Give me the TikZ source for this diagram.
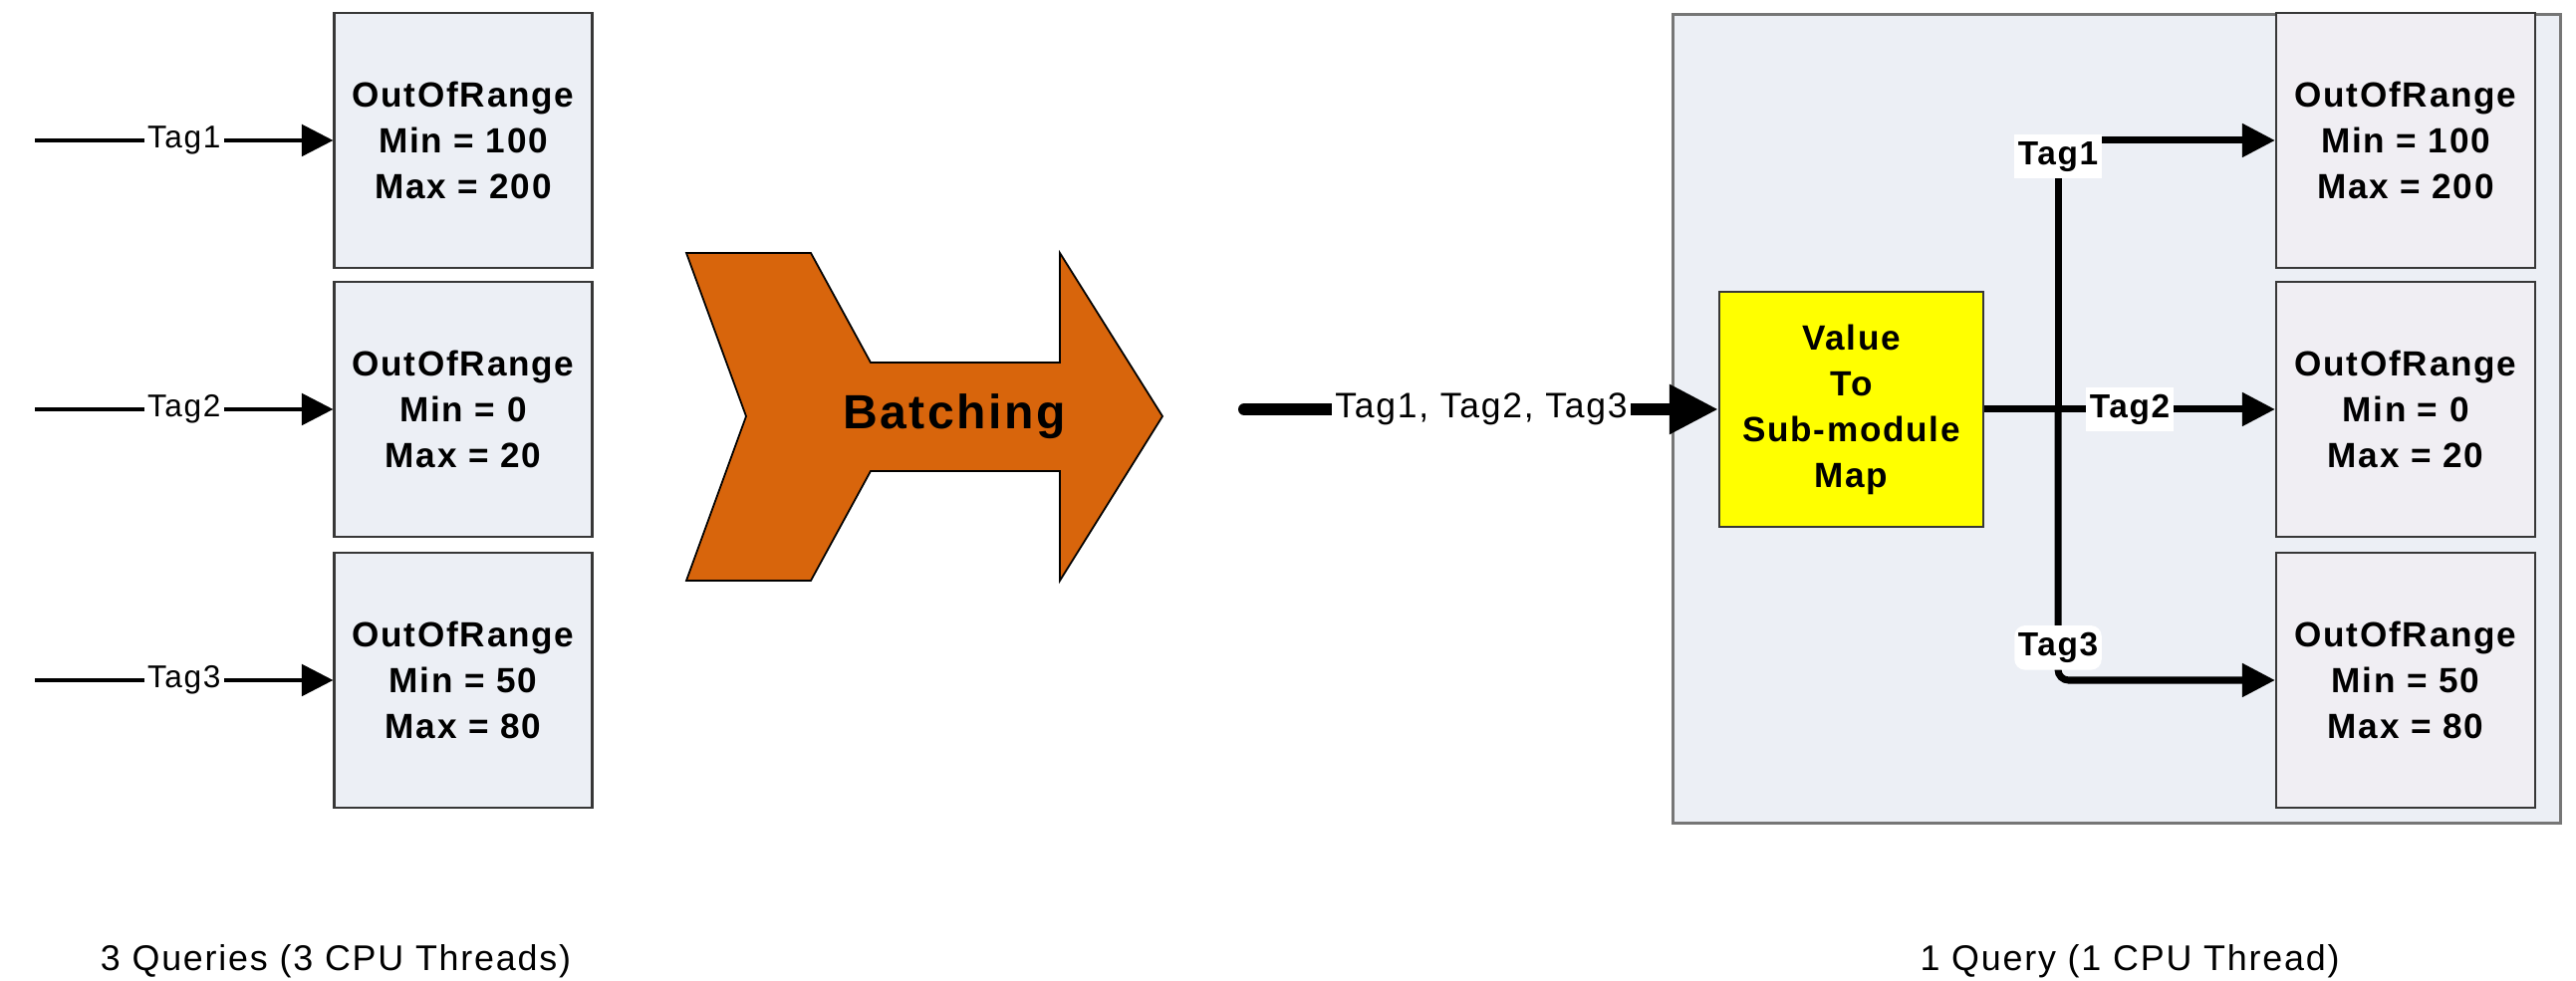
\documentclass[tikz,border=0pt]{standalone}
\usepackage{fontspec}
\setmainfont{Liberation Sans}[LetterSpace=5]
\usetikzlibrary{arrows.meta,positioning}
\definecolor{LoteFundo}{RGB}{236,239,245}
\definecolor{LoteCaixa}{RGB}{240,238,243}
\definecolor{LoteBorda}{RGB}{55,55,55}
\definecolor{LoteMoldura}{RGB}{118,118,118}
\definecolor{LoteLaranja}{RGB}{216,101,12}
\definecolor{LoteAmarelo}{RGB}{255,255,0}
\tikzset{
  regra/.style={draw=LoteBorda, line width=0.6pt, fill=LoteFundo, align=center,
                font=\fontsize{10}{13.1}\selectfont\bfseries, inner sep=0pt,
                minimum width=2.59cm, minimum height=2.56cm},
  mapa/.style={draw=LoteBorda, line width=0.6pt, fill=LoteAmarelo, align=center,
                font=\fontsize{10}{13.1}\selectfont\bfseries, inner sep=0pt,
                minimum width=2.65cm, minimum height=2.36cm},
  moldura/.style={draw=LoteMoldura, line width=0.85pt, fill=LoteFundo, inner sep=0pt},
  seta/.style={-{Triangle[length=9pt, width=9pt]}, line width=1.1pt, black},
  setadir/.style={-{Triangle[length=9.4pt, width=9.2pt]}, line width=2pt, black},
  setagrossa/.style={-{Triangle[length=14pt, width=13.4pt]}, line width=3.4pt,
                line cap=round, black},
  rotulo/.style={font=\fontsize{9}{10}\selectfont, fill=white, inner sep=1pt},
  rotulotag/.style={font=\fontsize{9.5}{11}\selectfont\bfseries, fill=white,
                inner xsep=1pt, inner ysep=2pt},
  rodape/.style={font=\fontsize{10.2}{12}\selectfont},
}

\begin{document}
\begin{tikzpicture}
  \useasboundingbox (0,0) rectangle (25.86,9.85);

  % ------------------------------------------------------------------ tres consultas
  \foreach \i/\y/\mn/\mx in {1/8.44/100/200, 2/5.74/0/20, 3/3.02/50/80}{
    \node[regra] (ql\i) at (4.65,\y) {OutOfRange\\Min = \mn\\Max = \mx};
    \coordinate (ent\i) at (0.35,\y);
    \draw[seta] (ent\i) -- node[rotulo] {Tag\i} (ql\i.west);
  }
  \node[rodape, anchor=base] (tres) at (3.37,0.10) {3 Queries (3 CPU Threads)};

  % ------------------------------------------------------------------ seta do lote
  \draw[draw=black, line width=0.5pt, fill=LoteLaranja]
    (6.89,7.31) -- (8.14,7.31) -- (8.74,6.21) -- (10.64,6.21) -- (10.64,7.31)
    -- (11.67,5.67) -- (10.64,4.02) -- (10.64,5.12) -- (8.74,5.12)
    -- (8.14,4.02) -- (6.89,4.02) -- (7.49,5.67) -- cycle;
  \node[font=\fontsize{13.7}{16}\selectfont\bfseries] (lote) at (9.58,5.67) {Batching};

  % ------------------------------------------------------------------ uma consulta
  \node[moldura, minimum width=8.91cm, minimum height=8.12cm] (thread) at (21.245,5.64) {};
  \foreach \i/\y/\mn/\mx in {1/8.44/100/200, 2/5.74/0/20, 3/3.02/50/80}{
    \node[regra, fill=LoteCaixa, minimum width=2.60cm] (qr\i) at (24.15,\y)
      {OutOfRange\\Min = \mn\\Max = \mx};
  }
  \node[mapa] (valmap) at (18.585,5.74) {Value\\To\\Sub-module\\Map};
  \coordinate (entrada) at (12.49,5.74);
  \draw[setagrossa] (entrada) -- node[rotulo, font=\fontsize{10.1}{12}\selectfont]
    {Tag1, Tag2, Tag3} (valmap.west);
  % ramificacao por tag
  \coordinate (ramo) at (20.66,5.74);
  \draw[setadir] (valmap.east) -- node[rotulotag] {Tag2} (qr2.west);
  \draw[setadir] (ramo) |- node[rotulotag, pos=0.47] {Tag1} (qr1.west);
  \draw[setadir, rounded corners=3pt] (ramo) |- node[rotulotag, pos=0.44] {Tag3} (qr3.west);
  \node[rodape, anchor=base] (uma) at (21.38,0.10) {1 Query (1 CPU Thread)};
\end{tikzpicture}
\end{document}
